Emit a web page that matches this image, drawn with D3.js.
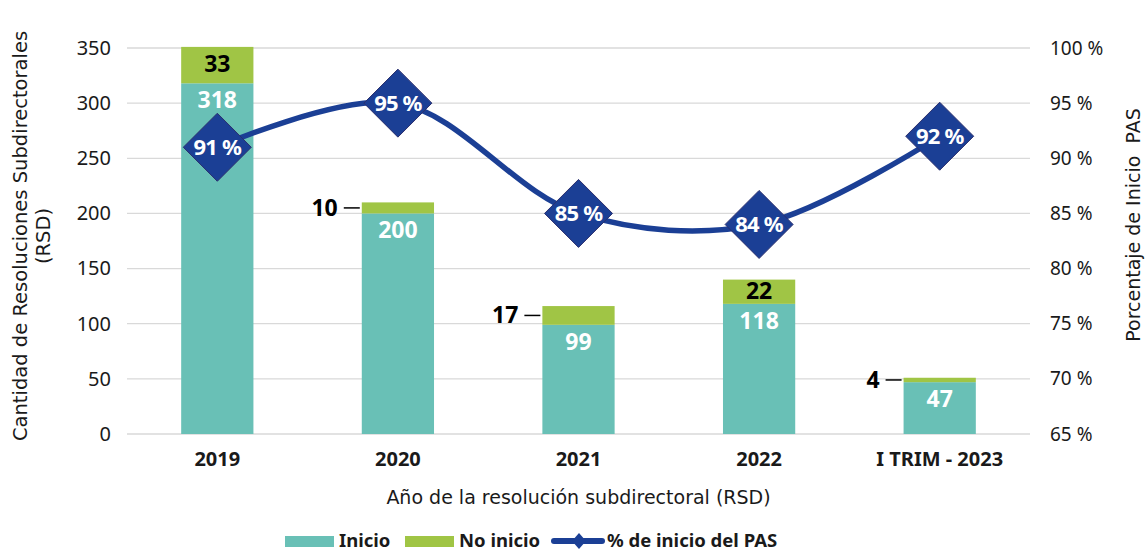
<!DOCTYPE html>
<html>
<head>
<meta charset="utf-8">
<script src="https://cdn.jsdelivr.net/npm/d3@7"></script>
<style>
  body { margin: 0; background: #fff; }
  svg { font-family: "Noto Sans", sans-serif; }
  .title { font-family: "DejaVu Sans", sans-serif; }
</style>
</head>
<body>
<div id="wrapper"></div>
<script>
// data
const years = ["2019", "2020", "2021", "2022", "I TRIM - 2023"]
const inicio = [318, 200, 99, 118, 47]
const noInicio = [33, 10, 17, 22, 4]
const pctInicio = [91, 95, 85, 84, 92]
const leftTicks = [0, 50, 100, 150, 200, 250, 300, 350]
const rightTicks = [65, 70, 75, 80, 85, 90, 95, 100]

const colors = { inicio: "#69c0b6", noInicio: "#a0c545", line: "#1b3f95", grid: "#d9d9d9" }

const dimensions = {
  width: 1145,
  height: 554,
  margin: { top: 48, right: 115, bottom: 120, left: 127 },
}
dimensions.boundedWidth = dimensions.width - dimensions.margin.left - dimensions.margin.right
dimensions.boundedHeight = dimensions.height - dimensions.margin.top - dimensions.margin.bottom

const data = years.map((y, i) => ({ year: y, inicio: inicio[i], noInicio: noInicio[i], pct: pctInicio[i] }))

const wrapper = d3.select("#wrapper").append("svg")
  .attr("width", dimensions.width)
  .attr("height", dimensions.height)

const bounds = wrapper.append("g")
  .attr("transform", `translate(${dimensions.margin.left},${dimensions.margin.top})`)

// scales
const xScale = d3.scaleBand()
  .domain(years)
  .range([0, dimensions.boundedWidth])
  .paddingInner(0.6)
  .paddingOuter(0.3)

const yScale = d3.scaleLinear()
  .domain([0, 350])
  .range([dimensions.boundedHeight, 0])

const yPctScale = d3.scaleLinear()
  .domain([65, 100])
  .range([dimensions.boundedHeight, 0])

// grid
bounds.append("g")
  .selectAll("line")
  .data(leftTicks)
  .join("line")
    .attr("x1", 0)
    .attr("x2", dimensions.boundedWidth)
    .attr("y1", d => yScale(d))
    .attr("y2", d => yScale(d))
    .attr("stroke", colors.grid)
    .attr("stroke-width", 1.3)

// axes
const yAxis = bounds.append("g")
  .call(d3.axisLeft(yScale).tickValues(leftTicks).tickSize(0).tickPadding(16))
yAxis.select(".domain").remove()
yAxis.selectAll("text")
  .attr("font-size", 20)
  .attr("fill", "#1a1a1a")
  .style("font-family", "Noto Sans, sans-serif")

const yAxisRight = bounds.append("g")
  .attr("transform", `translate(${dimensions.boundedWidth},0)`)
  .call(d3.axisRight(yPctScale).tickValues(rightTicks).tickSize(0).tickPadding(20).tickFormat(d => `${d} %`))
yAxisRight.select(".domain").remove()
yAxisRight.selectAll("text")
  .attr("font-size", 19)
  .attr("fill", "#1a1a1a")
  .style("font-family", "Noto Sans, sans-serif")

const xAxis = bounds.append("g")
  .attr("transform", `translate(0,${dimensions.boundedHeight})`)
  .call(d3.axisBottom(xScale).tickSize(0).tickPadding(18))
xAxis.select(".domain").remove()
xAxis.selectAll("text")
  .attr("font-size", 20)
  .attr("font-weight", "bold")
  .attr("fill", "#1a1a1a")
  .style("font-family", "Noto Sans, sans-serif")

// axis titles
bounds.append("text")
  .attr("class", "title")
  .attr("x", dimensions.boundedWidth / 2)
  .attr("y", dimensions.boundedHeight + 70)
  .attr("text-anchor", "middle")
  .attr("font-size", 19)
  .attr("fill", "#1a1a1a")
  .text("Año de la resolución subdirectoral (RSD)")

const leftTitle = wrapper.append("text")
  .attr("class", "title")
  .attr("transform", `translate(27,${dimensions.margin.top + dimensions.boundedHeight / 2 - 5}) rotate(-90)`)
  .attr("text-anchor", "middle")
  .attr("font-size", 19.5)
  .attr("fill", "#1a1a1a")
leftTitle.append("tspan").attr("x", 0).attr("y", 0).text("Cantidad de Resoluciones Subdirectorales")
leftTitle.append("tspan").attr("x", 0).attr("y", 23).text("(RSD)")

wrapper.append("text")
  .attr("class", "title")
  .attr("transform", `translate(1140,${dimensions.margin.top + dimensions.boundedHeight / 2 - 16}) rotate(-90)`)
  .attr("text-anchor", "middle")
  .attr("font-size", 19)
  .attr("fill", "#1a1a1a")
  .style("white-space", "pre")
  .text("Porcentaje de Inicio  PAS")

// bars
const barsGroup = bounds.append("g")
barsGroup.selectAll(".bar-inicio")
  .data(data)
  .join("rect")
    .attr("class", "bar-inicio")
    .attr("x", d => xScale(d.year))
    .attr("width", xScale.bandwidth())
    .attr("y", d => yScale(d.inicio))
    .attr("height", d => yScale(0) - yScale(d.inicio))
    .attr("fill", colors.inicio)

barsGroup.selectAll(".bar-no")
  .data(data)
  .join("rect")
    .attr("class", "bar-no")
    .attr("x", d => xScale(d.year))
    .attr("width", xScale.bandwidth())
    .attr("y", d => yScale(d.inicio + d.noInicio))
    .attr("height", d => yScale(d.inicio) - yScale(d.inicio + d.noInicio))
    .attr("fill", colors.noInicio)

// line
const cx = d => xScale(d.year) + xScale.bandwidth() / 2
const lineGenerator = d3.line()
  .x(cx)
  .y(d => yPctScale(d.pct))
  .curve(d3.curveCatmullRom.alpha(0.5))

bounds.append("path")
  .attr("d", lineGenerator(data))
  .attr("fill", "none")
  .attr("stroke", colors.line)
  .attr("stroke-width", 5.5)

// bar labels
const diamondR = 34
barsGroup.selectAll(".label-inicio")
  .data(data)
  .join("text")
    .attr("class", "label-inicio")
    .attr("x", cx)
    .attr("y", d => {
      const top = yScale(d.inicio)
      const diamondTop = yPctScale(d.pct) - diamondR
      return diamondTop < top + 40 ? top + 17 : top + 27
    })
    .attr("dy", "0.35em")
    .attr("text-anchor", "middle")
    .attr("font-size", 23)
    .attr("font-weight", "bold")
    .attr("fill", "#fff")
    .text(d => d.inicio)

const segH = d => yScale(d.inicio) - yScale(d.inicio + d.noInicio)
const segMid = d => yScale(d.inicio + d.noInicio / 2)

barsGroup.selectAll(".label-no")
  .data(data)
  .join("text")
    .attr("class", "label-no")
    .attr("x", d => segH(d) > 22 ? cx(d) : xScale(d.year) - 24)
    .attr("y", d => segH(d) > 22 ? segMid(d) - 1 : segMid(d))
    .attr("dy", "0.35em")
    .attr("text-anchor", d => segH(d) > 22 ? "middle" : "end")
    .attr("font-size", 23)
    .attr("font-weight", "bold")
    .attr("fill", "#000")
    .text(d => d.noInicio)

barsGroup.selectAll(".leader")
  .data(data.filter(d => segH(d) <= 22))
  .join("line")
    .attr("class", "leader")
    .attr("x1", d => xScale(d.year) - 18)
    .attr("x2", d => xScale(d.year) - 2)
    .attr("y1", segMid)
    .attr("y2", segMid)
    .attr("stroke", "#000")
    .attr("stroke-width", 1.5)

// diamonds
const markers = bounds.append("g")
  .selectAll("g")
  .data(data)
  .join("g")
    .attr("transform", d => `translate(${cx(d)},${yPctScale(d.pct)})`)

markers.append("path")
  .attr("d", `M0,${-diamondR}L${diamondR},0L0,${diamondR}L${-diamondR},0Z`)
  .attr("fill", colors.line)
  .attr("stroke", "#2b2f6e")
  .attr("stroke-width", 1)

markers.append("text")
  .attr("dy", "0.35em")
  .attr("text-anchor", "middle")
  .attr("font-size", 22)
  .attr("font-weight", "bold")
  .attr("letter-spacing", -0.8)
  .attr("fill", "#fff")
  .text(d => `${d.pct} %`)

// legend
const legend = wrapper.append("g")
  .attr("transform", `translate(0,541)`)
const legendItems = [
  { label: "Inicio", type: "rect", color: colors.inicio, x: 285 },
  { label: "No inicio", type: "rect", color: colors.noInicio, x: 405 },
  { label: "% de inicio del PAS", type: "line", color: colors.line, x: 551 },
]
legendItems.forEach(item => {
  const g = legend.append("g").attr("transform", `translate(${item.x},0)`)
  if (item.type === "rect") {
    g.append("rect")
      .attr("y", -5).attr("width", 49).attr("height", 11)
      .attr("fill", item.color)
  } else {
    g.append("line")
      .attr("x1", 3).attr("x2", 51).attr("y1", 0).attr("y2", 0)
      .attr("stroke", item.color).attr("stroke-width", 6).attr("stroke-linecap", "round")
    g.append("path")
      .attr("d", "M28,-8L35,0L28,8L21,0Z")
      .attr("fill", item.color)
  }
  g.append("text")
    .attr("x", item.type === "rect" ? 54 : 56)
    .attr("dy", "0.35em")
    .attr("font-size", 18.5)
    .attr("font-weight", "bold")
    .attr("fill", "#1a1a1a")
    .text(item.label)
})
</script>
</body>
</html>
